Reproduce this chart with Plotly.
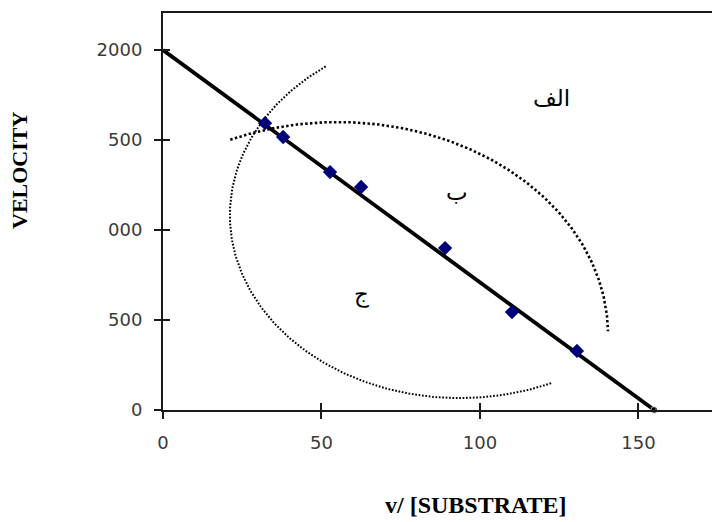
import numpy as np
import plotly.graph_objects as go

# ---- data ----
pts_x = [32.2, 37.9, 52.7, 62.5, 89.0, 110.1, 130.6]
pts_y = [1594, 1517, 1322, 1239, 900, 544, 328]
fit_x = [0, 155]
fit_y = [2000, 0]
x_ticks = [0, 50, 100, 150]
x_ticktext = ["0", "50", "100", "150"]
y_ticks = [0, 500, 1000, 1500, 2000]
y_ticktext = ["0", "500", "000", "500", "2000"]
region_labels = ["الف", "ب", "ج"]
region_x = [122.5, 92.7, 62.5]
region_y = [1730, 1210, 640]

# decorative dotted arcs (ellipse centre, radii, start/end angle in degrees)
arc_a = dict(cx=55.2, cy=417, rx=85.2, ry=1183, t0=113.5, t1=1)
arc_b = dict(cx=93.7, cy=1083, rx=72.6, ry=1017, t0=125.7, t1=293.4)

XR = [0, 173.2]
YR = [0, 2206]


def arc(p):
    t = np.radians(np.linspace(p["t0"], p["t1"], 200))
    return p["cx"] + p["rx"] * np.cos(t), p["cy"] + p["ry"] * np.sin(t)


fig = go.Figure()

ax, ay = arc(arc_a)
fig.add_trace(go.Scatter(x=ax, y=ay, mode="lines",
                         line=dict(color="black", width=2.6, dash="2.4px,2.4px"),
                         hoverinfo="skip", showlegend=False))
bx, by = arc(arc_b)
fig.add_trace(go.Scatter(x=bx, y=by, mode="lines",
                         line=dict(color="black", width=2, dash="1.7px,1.7px"),
                         hoverinfo="skip", showlegend=False))

fig.add_trace(go.Scatter(x=fit_x, y=fit_y, mode="lines+markers",
                         line=dict(color="black", width=3.8),
                         marker=dict(size=[0, 7], color="black"),
                         cliponaxis=False, showlegend=False))
fig.add_trace(go.Scatter(x=pts_x, y=pts_y, mode="markers",
                         marker=dict(symbol="diamond", size=11, color="#00007a"),
                         showlegend=False))

# invisible trace for overlay axes (crossing ticks)
fig.add_trace(go.Scatter(x=[None], y=[None], xaxis="x2", yaxis="y2",
                         showlegend=False, hoverinfo="skip"))

for t, x, y in zip(region_labels, region_x, region_y):
    fig.add_annotation(x=x, y=y, text=t, showarrow=False,
                       font=dict(family="Times New Roman, Liberation Serif, DejaVu Sans",
                                 size=23, color="black"))

tickfont = dict(family="DejaVu Sans", size=18, color="#3a3a3a")

fig.update_layout(
    width=712, height=522,
    margin=dict(l=163, r=0, t=13, b=112),
    paper_bgcolor="white", plot_bgcolor="white",
    xaxis=dict(range=XR, tickvals=x_ticks, ticktext=x_ticktext,
               showgrid=False, zeroline=False, showline=True, mirror=True,
               linecolor="#1a1a1a", linewidth=2, ticks="outside", ticklen=7,
               tickwidth=2, tickcolor="#1a1a1a", tickfont=tickfont,
               ticklabelstandoff=8),
    yaxis=dict(range=YR, tickvals=y_ticks, ticktext=y_ticktext,
               showgrid=False, zeroline=False, showline=True,
               linecolor="#1a1a1a", linewidth=2, ticks="outside", ticklen=7,
               tickwidth=2, tickcolor="#1a1a1a", tickfont=tickfont,
               ticklabelstandoff=8),
    xaxis2=dict(range=XR, overlaying="x", anchor="y", side="bottom",
                tickvals=x_ticks, showticklabels=False, showgrid=False,
                zeroline=False, showline=False, ticks="inside", ticklen=7,
                tickwidth=2, tickcolor="#1a1a1a"),
    yaxis2=dict(range=YR, overlaying="y", anchor="x", side="left",
                tickvals=y_ticks, showticklabels=False, showgrid=False,
                zeroline=False, showline=False, ticks="inside", ticklen=7,
                tickwidth=2, tickcolor="#1a1a1a"),
)

# axis titles placed as annotations (paper coords relative to plot area)
W, H = 712 - 163, 410 - 13
fig.add_annotation(xref="paper", yref="paper", x=(19 - 163) / W, y=(410 - 171) / H,
                   xanchor="center", yanchor="middle",
                   text="<b>VELOCITY</b>", textangle=-90, showarrow=False,
                   font=dict(family="Liberation Serif", size=22, color="black"))
fig.add_annotation(xref="paper", yref="paper", x=(476 - 163) / W, y=(410 - 505) / H,
                   xanchor="center", yanchor="middle",
                   text="<b>v/ [SUBSTRATE]</b>", showarrow=False,
                   font=dict(family="Liberation Serif", size=24, color="black"))

fig.write_html("out.html")
